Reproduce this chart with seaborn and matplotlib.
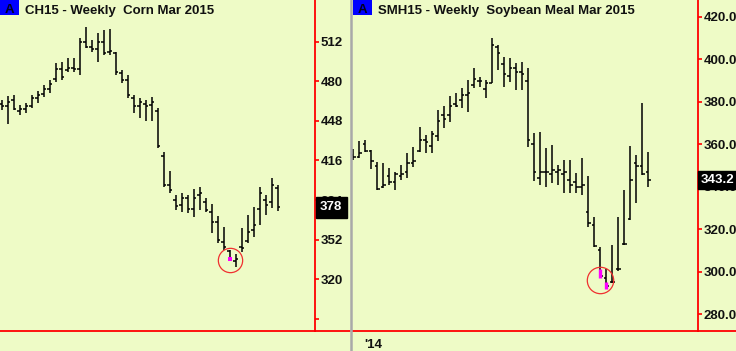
import numpy as np
import pandas as pd
import matplotlib
matplotlib.use('Agg')
import matplotlib.pyplot as plt
import matplotlib.dates as mdates
import matplotlib.transforms as mtrans
from matplotlib.lines import Line2D
from matplotlib.patches import Rectangle
import seaborn as sns

# Weekly Corn Mar 2015 (CH15)
corn_start = '2013-12-30'
corn_high = [465, 468, 469, 461, 462.6, 469, 472, 477, 481, 495, 495.8, 499, 499, 515, 524, 513.6,
             519, 521.7, 522.5, 503.9, 489, 485, 469, 466.6, 465, 467.4, 458.5, 422.9, 407.5, 388,
             389.7, 388, 392.9, 394.5, 385.6, 380.8, 371, 362, 343.5, 340.3, 361.3, 371.9, 378.3,
             394.5, 388, 401.8, 396]
corn_low = [457, 445.6, 457, 452.9, 454.5, 458.5, 462.6, 467.4, 470.7, 479.6, 481.2, 487.7, 487.7,
            485, 507, 503.9, 495.8, 501.5, 501.5, 485, 478.8, 466.6, 454.5, 450.4, 448, 448, 426,
            394.5, 389.7, 376, 374.3, 373.5, 370.2, 376, 374.3, 357.3, 349.2, 343.5, 335.4, 329.7,
            341.9, 349.2, 354, 363.7, 371.9, 377.5, 375.1]
corn_open = [462, 460, 465, 456, 458, 460, 467, 470, 474, 482, 490, 489, 491, 490, 512, 508, 506,
             512, 504, 503, 487, 481, 467, 460, 462, 461, 456, 420, 396, 384, 380, 386, 377, 388,
             382, 374, 366, 350, 343, 335, 346, 351, 360, 377, 384, 382, 394]
corn_close = [460, 463, 458, 458, 460, 467, 469, 474, 478, 490, 484, 491, 490, 512, 508, 506, 512,
              503, 505, 488, 481, 469, 460, 463, 460, 463, 428, 396, 392, 379, 386, 377, 386, 390,
              376, 366, 352, 346, 337, 336, 345, 358, 364, 390, 380, 396, 378]
corn_yticks = [288, 320, 352, 384, 416, 448, 480, 512]
corn_ylabels = ['', '320', '352', '384', '416', '448', '480', '512']

# Weekly Soybean Meal Mar 2015 (SMH15)
soy_start = '2013-12-09'
soy_high = [357.8, 361.5, 362, 357.3, 351.6, 351.2, 348.8, 346.9, 350.2, 355.9, 358.7, 368.1, 364.4,
            366.2, 376.1, 378, 382.7, 384.2, 386.5, 390.3, 395.9, 391.7, 390.3, 410.1, 406.8, 401.1,
            400.7, 398.3, 398.8, 395.9, 365.3, 365.8, 358.2, 359.6, 350.2, 352.6, 352.6, 346.4,
            353.5, 345, 325.7, 311.6, 301.2, 312.5, 325.7, 338.4, 359.2, 354.9, 379.4, 356.3]
soy_low = [352.6, 353.5, 356.3, 348.3, 338.4, 339.4, 340.8, 338.4, 343.1, 344.1, 349.3, 356.3, 355.9,
           355.9, 361.5, 367.7, 370.5, 377.6, 377.1, 375.2, 386.5, 387, 381.8, 388.9, 395, 387,
           389.3, 385.6, 385.6, 358.7, 342.7, 340.8, 339.8, 341.7, 340.8, 337, 337, 337, 336.1,
           321, 311.6, 296.9, 292.2, 294.6, 300.2, 312.5, 324.3, 332.3, 345.5, 339.8]
soy_open = [355, 354, 360, 357, 350, 340, 345, 342, 345, 347, 351, 357, 362, 359, 364, 374, 374, 379,
            381, 383, 388, 390, 386, 389, 406, 398, 392, 396, 394, 390, 360, 344, 347, 346, 347, 346,
            343, 342, 340, 328, 322, 310, 297, 295, 301, 313, 325, 351, 350, 347]
soy_close = [354, 356, 357, 352, 339, 341, 342, 346, 346, 351, 352, 362, 361, 365, 371, 372, 378, 378,
             383, 384, 391, 390, 389, 407, 403, 393, 396, 394, 393, 362, 347, 347, 347, 348, 348, 347,
             341, 340, 341, 323, 312, 298, 293, 295, 301, 313, 343, 350, 346, 343.2]
soy_yticks = [280, 300, 320, 340, 360, 380, 400, 420]
soy_ylabels = ['280.0', '300.0', '320.0', '340.0', '360.0', '380.0', '400.0', '420.0']

BG = '#EEFBC6'
sns.set_style('white', {'axes.facecolor': BG, 'figure.facecolor': BG})
plt.rcParams['font.family'] = ['Liberation Sans', 'DejaVu Sans']

W, H = 736, 351
fig = plt.figure(figsize=(W / 100, H / 100), dpi=100)


def px_rect(x0, y0, x1, y1):
    return [x0 / W, 1 - y1 / H, (x1 - x0) / W, (y1 - y0) / H]


def draw_bars(ax, dates, o, h, l, c):
    x = mdates.date2num(dates)
    ax.vlines(x, l, h, color='black', lw=1.1)
    ax.hlines(o, x - 3, x, color='black', lw=1.1)
    ax.hlines(c, x, x + 3, color='black', lw=1.1)
    return x


def style_axis(ax, yticks, ylabels, ylim, xlim):
    ax.set_facecolor(BG)
    for s in ['top', 'left']:
        ax.spines[s].set_visible(False)
    for s in ['right', 'bottom']:
        ax.spines[s].set_color('red')
        ax.spines[s].set_linewidth(1.3)
    ax.yaxis.tick_right()
    ax.set_ylim(*ylim)
    ax.set_xlim(*xlim)
    ax.set_yticks(yticks)
    ax.set_yticklabels(ylabels, fontweight='bold', fontsize=9.5)
    ax.tick_params(axis='y', colors='red', labelcolor='#111111', length=3, width=1.2,
                   direction='out', pad=1)
    ax.tick_params(axis='x', colors='red', labelcolor='#111111', length=3, width=1.2,
                   direction='out', pad=3)
    ax.set_xlabel('')
    ax.set_ylabel('')


# ---- left panel: corn
ax1 = fig.add_axes(px_rect(0, 0, 315, 331))
corn_dates = pd.date_range(corn_start, periods=len(corn_high), freq='7D')
cx = draw_bars(ax1, corn_dates, corn_open, corn_high, corn_low, corn_close)
c0 = mdates.date2num(pd.Timestamp(corn_start))
style_axis(ax1, corn_yticks, corn_ylabels, (277.9, 546.0), (c0 - 2, c0 + 365.5))
ax1.set_xticks(mdates.date2num(pd.to_datetime(['2014-04-01', '2014-07-01', '2014-10-01'])))
ax1.set_xticklabels(['', '', ''])

# new-low marker and circle
sns.scatterplot(x=[cx[38]], y=[336.2], marker='s', s=9, color='#FF00FF', edgecolor='none',
                ax=ax1, legend=False, zorder=4)
ax1.plot([cx[38]], [335.8], 'o', ms=17.5, mfc='none', mec='#F03030', mew=0.9, zorder=5)

ax1.annotate('378', xy=(1.0, corn_close[-1]), xycoords=mtrans.blended_transform_factory(ax1.transAxes, ax1.transData),
             xytext=(5, 0), textcoords='offset pixels', ha='left', va='center', color='white',
             fontweight='bold', fontsize=9.5, annotation_clip=False, zorder=6,
             bbox=dict(boxstyle='square,pad=0.33', fc='black', ec='black'))

# ---- right panel: soybean meal
ax2 = fig.add_axes(px_rect(352, 0, 698, 331))
soy_dates = pd.date_range(soy_start, periods=len(soy_high), freq='7D')
sx = draw_bars(ax2, soy_dates, soy_open, soy_high, soy_low, soy_close)
s0 = mdates.date2num(pd.Timestamp(soy_start))
style_axis(ax2, soy_yticks, soy_ylabels, (272.0, 428.0), (s0 - 1.5, s0 + 400.8))
ax2.set_xticks(mdates.date2num(pd.to_datetime(['2014-01-01', '2014-04-01', '2014-07-01', '2014-10-01'])))
ax2.set_xticklabels(["'14", '', '', ''], fontweight='bold', fontsize=9.5)

ax2.vlines([sx[41], sx[42]], [297.0, 291.8], [301.2, 295.1], color='#FF00FF', lw=2.4, zorder=4)
ax2.plot([sx[41]], [296.0], 'o', ms=19, mfc='none', mec='#F03030', mew=0.9, zorder=5)

ax2.annotate('343.2', xy=(1.0, soy_close[-1]), xycoords=mtrans.blended_transform_factory(ax2.transAxes, ax2.transData),
             xytext=(3, 0), textcoords='offset pixels', ha='left', va='center', color='white',
             fontweight='bold', fontsize=9.5, annotation_clip=False, zorder=6,
             bbox=dict(boxstyle='square,pad=0.2', fc='black', ec='black'))

# ---- frame pieces: bottom line extensions and panel divider
fig.add_artist(Line2D([315 / W, 350 / W], [1 - 331 / H, 1 - 331 / H], color='red', lw=1.3))
fig.add_artist(Line2D([698 / W, 1.0], [1 - 331 / H, 1 - 331 / H], color='red', lw=1.3))
fig.add_artist(Line2D([350.5 / W, 350.5 / W], [0, 1], color='#A9A9A9', lw=1.8))

# ---- titles with blue "A" tags
for x0, title in [(0, 'CH15 - Weekly  Corn Mar 2015'), (353, 'SMH15 - Weekly  Soybean Meal Mar 2015')]:
    fig.add_artist(Rectangle((x0 / W, 1 - 15 / H), 19 / W, 15 / H, transform=fig.transFigure,
                             fc='#0000FF', ec='none'))
    fig.text((x0 + 9.5) / W, 1 - 13 / H, 'A', ha='center', va='baseline', color='#000022',
             fontweight='bold', fontsize=9.5)
    fig.text((x0 + 25) / W, 1 - 14 / H, title, ha='left', va='baseline', color='#111111',
             fontweight='bold', fontsize=9.5)

fig.savefig('out.png', dpi=100, facecolor=BG)
